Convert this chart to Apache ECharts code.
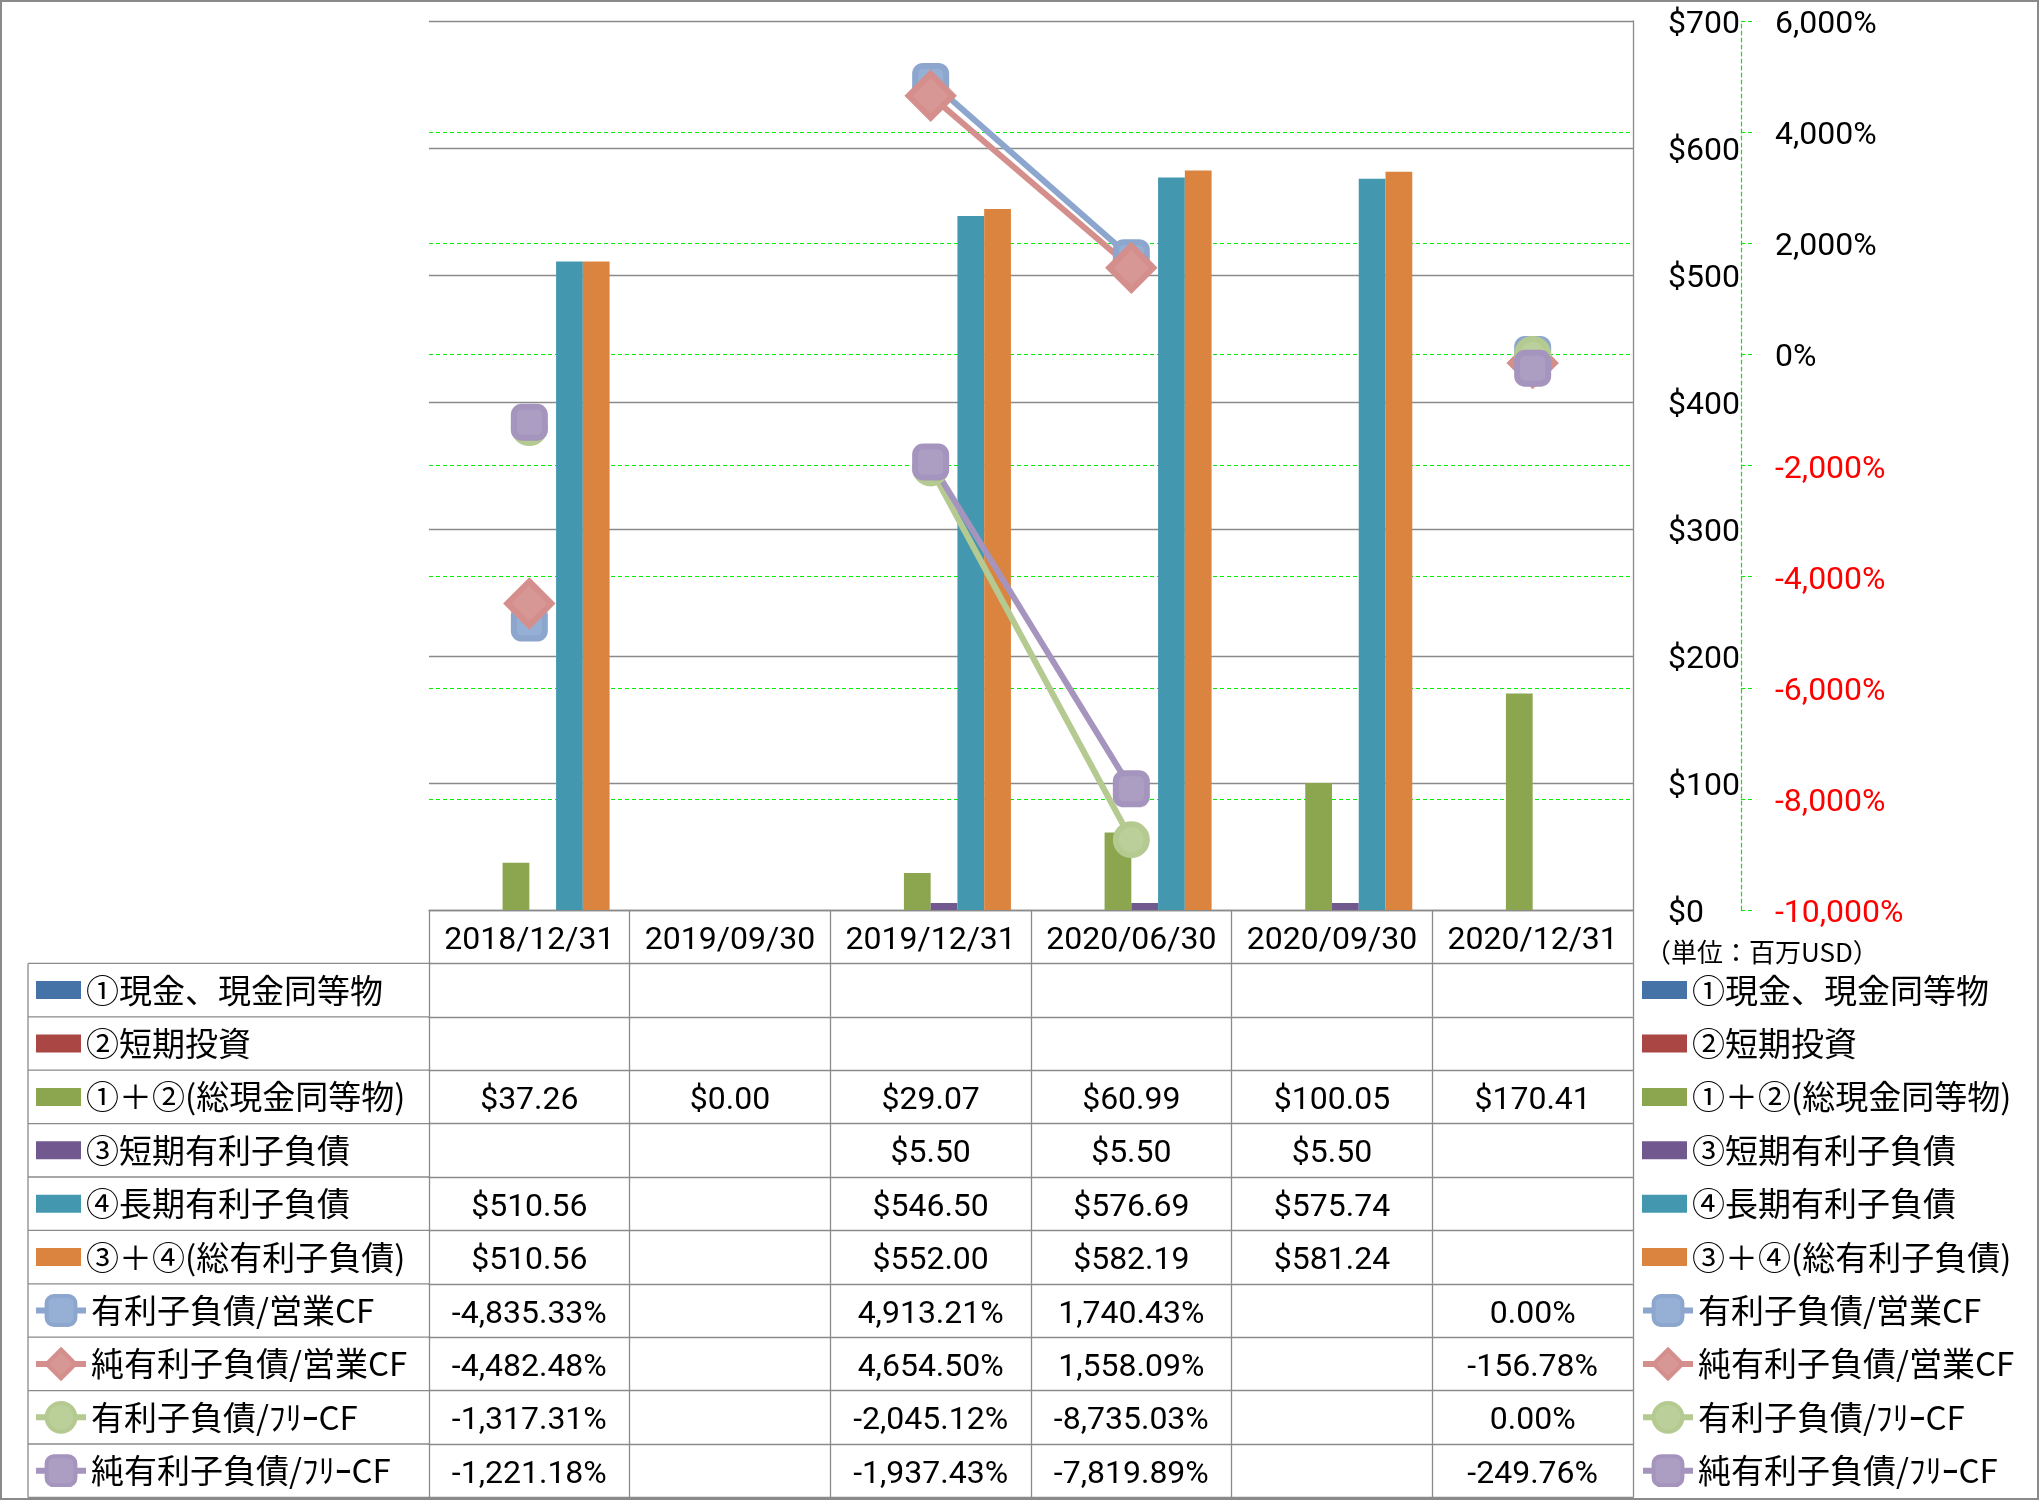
<!DOCTYPE html>
<html><head><meta charset="utf-8">
<script src="https://cdn.jsdelivr.net/npm/echarts@6/dist/echarts.min.js"></script>
<style>html,body{margin:0;padding:0;background:#fff}#c{width:2039px;height:1500px}</style>
</head><body><div id="c"></div>
<script>
// ---------- data ----------
const categories = ['2018/12/31', '2019/09/30', '2019/12/31', '2020/06/30', '2020/09/30', '2020/12/31'];
const cash        = [null, null, null, null, null, null];
const shortInv    = [null, null, null, null, null, null];
const totalCash   = [37.26, 0.00, 29.07, 60.99, 100.05, 170.41];
const shortDebt   = [null, null, 5.50, 5.50, 5.50, null];
const longDebt    = [510.56, null, 546.50, 576.69, 575.74, null];
const totalDebt   = [510.56, null, 552.00, 582.19, 581.24, null];
const debtOpCF    = [-4835.33, null, 4913.21, 1740.43, null, 0.00];
const netDebtOpCF = [-4482.48, null, 4654.50, 1558.09, null, -156.78];
const debtFCF     = [-1317.31, null, -2045.12, -8735.03, null, 0.00];
const netDebtFCF  = [-1221.18, null, -1937.43, -7819.89, null, -249.76];
const barNames  = ['①現金、現金同等物', '②短期投資', '①＋②(総現金同等物)', '③短期有利子負債', '④長期有利子負債', '③＋④(総有利子負債)'];
const lineNames = ['有利子負債/営業CF', '純有利子負債/営業CF', '有利子負債/ﾌﾘｰCF', '純有利子負債/ﾌﾘｰCF'];
const unitLabel = '（単位：百万USD）';

// ---------- layout / style ----------
const W = 2039, H = 1500;
const GL = 429, GR = 1633, GT = 21, GB = 910;
const RH = 53.4;
const TL = 28;
const NUM_FONT = 'Roboto, "Noto Sans CJK JP", sans-serif';
const JP_FONT = '"Noto Sans CJK JP", sans-serif';
const GRAY = '#8a8a8a';
const GREEN = '#00ee00';
const barColors = ['#4572A7', '#AA4643', '#8BA64F', '#71588F', '#4398B0', '#DB843F'];
const lineBorder = ['#8CA6CE', '#D48E8C', '#B4CA91', '#A594BD'];
const lineFill   = ['#96AFD4', '#D69795', '#BBCF9A', '#AC9EC3'];
const lineSymbols = ['roundRect', 'diamond', 'circle', 'roundRect'];
const lineSymbolSizes = [31, 44, 31, 31];

const barData = [cash, shortInv, totalCash, shortDebt, longDebt, totalDebt];
const lineData = [debtOpCF, netDebtOpCF, debtFCF, netDebtFCF];

function fmt2(v) {
  return v.toLocaleString('en-US', {minimumFractionDigits: 2, maximumFractionDigits: 2});
}
const rowText = [];
barData.forEach(arr => rowText.push(arr.map(v => v == null ? '' : '$' + fmt2(v))));
lineData.forEach(arr => rowText.push(arr.map(v => v == null ? '' : fmt2(v) + '%')));

// ---------- axes ----------
const cellLabel = {interval: 0, margin: RH / 2 + 4, verticalAlign: 'middle',
  fontSize: 32, fontFamily: NUM_FONT, color: '#000'};
const xAxes = [];
xAxes.push({
  type: 'category', data: categories, gridIndex: 0, position: 'bottom', boundaryGap: true,
  axisLine: {onZero: false, lineStyle: {color: GRAY, width: 1.3}},
  axisTick: {show: true, interval: 0, length: RH, lineStyle: {color: GRAY, width: 1.3}},
  axisLabel: Object.assign({}, cellLabel)
});
for (let r = 0; r < rowText.length; r++) {
  const texts = rowText[r];
  xAxes.push({
    type: 'category', data: categories, gridIndex: 0, position: 'bottom', offset: RH * (r + 1), boundaryGap: true,
    axisLine: {onZero: false, lineStyle: {color: GRAY, width: 1.3}},
    axisTick: {show: true, interval: 0, length: RH, lineStyle: {color: GRAY, width: 1.3}},
    axisLabel: Object.assign({}, cellLabel, {formatter: (v, i) => texts[i]})
  });
}
xAxes.push({
  type: 'category', data: categories, gridIndex: 0, position: 'bottom', offset: RH * (rowText.length + 1), boundaryGap: true,
  axisLine: {onZero: false, lineStyle: {color: GRAY, width: 1.3}},
  axisTick: {show: false}, axisLabel: {show: false}
});

const shiftRich = {t: {padding: [8, 0, 0, 0], fontSize: 32, fontFamily: NUM_FONT}};
const yAxes = [
  {
    type: 'value', position: 'right', min: 0, max: 700, interval: 100,
    axisLine: {show: true, lineStyle: {color: GRAY, width: 1.3}},
    axisTick: {show: false},
    axisLabel: {margin: 35, align: 'left', fontSize: 32, fontFamily: NUM_FONT, color: '#000',
      formatter: v => '{t|$' + v + '}', rich: {t: {padding: [8, 0, 0, 0], fontSize: 32, fontFamily: NUM_FONT, color: '#000'}}},
    splitLine: {show: true, lineStyle: {color: GRAY, width: 1.3}}
  },
  {
    type: 'value', position: 'right', offset: 108, min: -10000, max: 6000, interval: 2000,
    axisLine: {show: true, lineStyle: {color: GREEN, width: 1.2, type: [4, 3]}},
    axisTick: {show: true, length: 12, lineStyle: {color: GREEN, width: 1.2, type: [4, 3]}},
    axisLabel: {margin: 34, fontSize: 32, fontFamily: NUM_FONT,
      formatter: v => (v < 0 ? '{n|' : '{p|') + v.toLocaleString('en-US') + '%}',
      rich: {
        p: {padding: [8, 0, 0, 0], fontSize: 32, fontFamily: NUM_FONT, color: '#000'},
        n: {padding: [8, 0, 0, 0], fontSize: 32, fontFamily: NUM_FONT, color: '#ff0000'}
      }},
    splitLine: {show: true, showMaxLine: false, showMinLine: false,
      lineStyle: {color: GREEN, width: 1.2, type: [4, 3]}}
  }
];

// ---------- series ----------
const series = [];
barNames.forEach((n, i) => series.push({
  name: n, type: 'bar', xAxisIndex: 0, yAxisIndex: 0, data: barData[i],
  barGap: '0%', barCategoryGap: '20%', itemStyle: {color: barColors[i]}
}));
lineNames.forEach((n, i) => series.push({
  name: n, type: 'line', xAxisIndex: 0, yAxisIndex: 1, data: lineData[i],
  symbol: lineSymbols[i], symbolSize: lineSymbolSizes[i], showAllSymbol: true, connectNulls: false,
  lineStyle: {color: lineBorder[i], width: 6},
  itemStyle: {color: lineFill[i], borderColor: lineBorder[i], borderWidth: 6},
  z: 3
}));

// ---------- legends ----------
const legText = {fontSize: 33, fontFamily: JP_FONT, color: '#000', lineHeight: 40};
const barTop = GB + RH + (RH - 40) / 2;
const lineTop = GB + RH * 7 + (RH - 40) / 2;
function mkLegend(names, left, top, w, h, isBar) {
  const l = {
    data: names, orient: 'vertical', left: left, top: top, padding: 0,
    itemWidth: w, itemHeight: h, itemGap: RH - 40, selectedMode: false,
    textStyle: legText
  };
  if (isBar) { l.icon = 'rect'; }
  else { l.lineStyle = {width: 6}; l.itemStyle = {borderWidth: 4}; }
  return l;
}
const legends = [
  mkLegend(barNames, 36, barTop, 45, 18, true),
  mkLegend(lineNames, 33, lineTop, 50, 36, false),
  mkLegend(barNames, 1642, barTop, 45, 18, true),
  mkLegend(lineNames, 1640, lineTop, 50, 36, false)
];

// ---------- table borders for label column ----------
const graphics = [];
graphics.push({type: 'rect', shape: {x: 1, y: 1, width: W - 2, height: H - 2},
  style: {fill: 'none', stroke: GRAY, lineWidth: 2}, silent: true, z: 100});
const nRows = rowText.length;
for (let r = 0; r <= nRows; r++) {
  const y = GB + RH * (r + 1);
  graphics.push({type: 'line', shape: {x1: TL, y1: y, x2: GL, y2: y},
    style: {stroke: GRAY, lineWidth: 1.3}, silent: true});
}
graphics.push({type: 'line', shape: {x1: TL, y1: GB + RH, x2: TL, y2: GB + RH * (nRows + 1)},
  style: {stroke: GRAY, lineWidth: 1.3}, silent: true});
graphics.push({type: 'text', x: 1645, y: 952,
  style: {text: unitLabel, fontSize: 26, fontFamily: JP_FONT, fill: '#000', verticalAlign: 'middle', align: 'left'}});

const chart = echarts.init(document.getElementById('c'), null, {renderer: 'canvas'});
chart.setOption({
  animation: false,
  backgroundColor: '#fff',
  grid: {left: GL, right: W - GR, top: GT, bottom: H - GB, containLabel: false},
  xAxis: xAxes,
  yAxis: yAxes,
  legend: legends,
  series: series,
  graphic: graphics
});
</script>
</body></html>
